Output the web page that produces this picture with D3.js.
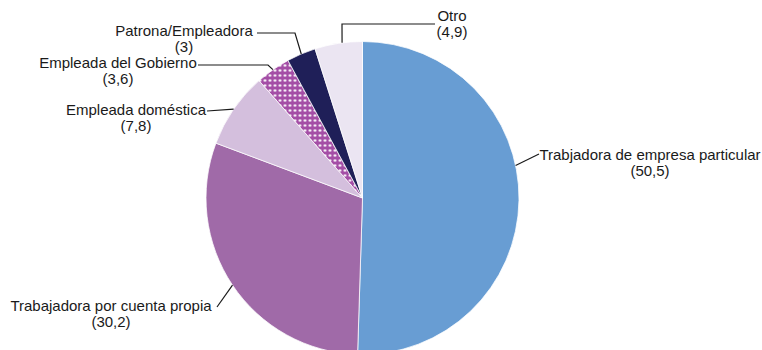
<!DOCTYPE html>
<html>
<head>
<meta charset="utf-8">
<script src="https://cdn.jsdelivr.net/npm/d3@7"></script>
<style>
  html, body { margin: 0; padding: 0; background: #ffffff; }
  svg { display: block; }
  text { font-family: "Liberation Sans", Arial, sans-serif; font-size: 15px; fill: #1a1a1a; }
</style>
</head>
<body>
<svg id="chart" width="762" height="350"></svg>
<script>
// Occupational category shares (%), clockwise from 12 o'clock
const categories = [
  "Trabjadora de empresa particular",
  "Trabajadora por cuenta propia",
  "Empleada doméstica",
  "Empleada del Gobierno",
  "Patrona/Empleadora",
  "Otro"
];
const values = [50.5, 30.2, 7.8, 3.6, 3, 4.9];
const valueLabels = ["(50,5)", "(30,2)", "(7,8)", "(3,6)", "(3)", "(4,9)"];

// Slice fills ("dots" refers to the patterned fill defined below)
const fills = ["#689dd3", "#a06aa8", "#d4bfdd", "url(#dots)", "#1f1f58", "#ebe5f2"];

// Label placement: text centre x, first baseline y, leader bend points (label side),
// and an optional angle (degrees from 12 o'clock) where the leader touches the rim.
const labelLayout = [
  { x: 650, y: 160, leader: [[539, 154]], rimAngle: 78 },
  { x: 111, y: 311, leader: [[217, 307]] },
  { x: 136, y: 115, leader: [[207, 111]] },
  { x: 118, y: 68,  leader: [[268, 65], [198, 65]] },
  { x: 184, y: 36,  leader: [[295, 33], [257, 33]] },
  { x: 452, y: 21,  leader: [[342, 24], [435, 24]], rimAngle: 352.5 }
];

const svg = d3.select("#chart");
const cx = 362.5, cy = 198, radius = 156.5;

// Dotted pattern for the government-employee slice
const defs = svg.append("defs");
const pat = defs.append("pattern")
  .attr("id", "dots")
  .attr("patternUnits", "userSpaceOnUse")
  .attr("width", 5).attr("height", 5);
pat.append("rect").attr("width", 5).attr("height", 5).attr("fill", "#a44ea6");
pat.append("circle").attr("cx", 2.5).attr("cy", 2.5).attr("r", 1.3).attr("fill", "#ffffff");

const pie = d3.pie().sort(null).value(d => d.value);
const data = categories.map((c, i) => ({ name: c, value: values[i], label: valueLabels[i], fill: fills[i], layout: labelLayout[i] }));
const arcs = pie(data);
const arc = d3.arc().innerRadius(0).outerRadius(radius);

const g = svg.append("g").attr("transform", `translate(${cx},${cy})`);

g.selectAll("path.slice")
  .data(arcs)
  .join("path")
  .attr("class", "slice")
  .attr("d", arc)
  .attr("fill", d => d.data.fill)
  .attr("stroke", "#ffffff")
  .attr("stroke-width", 0.75);

// Leader lines from the rim to each label
function rimPoint(d) {
  const a = d.data.layout.rimAngle != null
    ? d.data.layout.rimAngle * Math.PI / 180
    : (d.startAngle + d.endAngle) / 2;
  return [cx + radius * Math.sin(a), cy - radius * Math.cos(a)];
}

svg.selectAll("path.leader")
  .data(arcs)
  .join("path")
  .attr("class", "leader")
  .attr("d", d => d3.line()([rimPoint(d), ...d.data.layout.leader]))
  .attr("fill", "none")
  .attr("stroke", "#1a1a1a")
  .attr("stroke-width", 1.2);

const labels = svg.selectAll("text.lbl")
  .data(arcs)
  .join("text")
  .attr("class", "lbl")
  .attr("text-anchor", "middle")
  .attr("x", d => d.data.layout.x)
  .attr("y", d => d.data.layout.y);
labels.append("tspan").text(d => d.data.name);
labels.append("tspan")
  .attr("x", d => d.data.layout.x)
  .attr("dy", 16)
  .text(d => d.data.label);
</script>
</body>
</html>
